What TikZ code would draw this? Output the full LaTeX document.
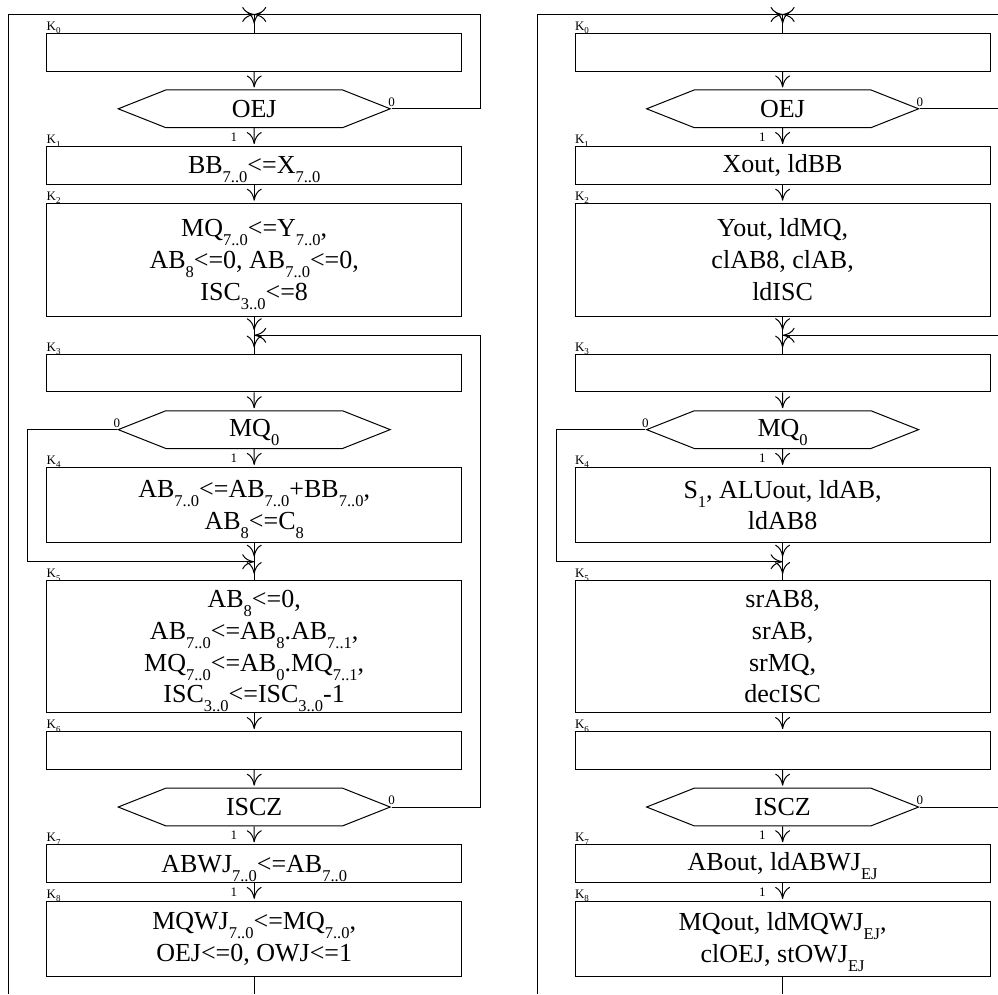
\documentclass[tikz,border=0pt]{standalone}
\usepackage{fontspec}
\setmainfont{Liberation Serif}
\usetikzlibrary{arrows.meta,shapes.symbols,positioning}

\newcommand{\sbs}[1]{\raisebox{-9pt}[0pt][0pt]{\fontsize{16.5}{16.5}\selectfont #1}}
\newcommand{\ksb}[1]{\raisebox{-3.5pt}[0pt][0pt]{\fontsize{9}{9}\selectfont #1}}

\begin{document}
\begin{tikzpicture}[x=1pt, y=1pt, line width=1pt, node distance=56.61pt,
    >={Computer Modern Rightarrow[length=12pt, width=15pt]},
    block/.style={rectangle, draw, minimum width=415pt, minimum height=37.74pt, inner sep=0pt, align=center, font=\fontsize{26}{31.8}\selectfont},
    test/.style={signal, signal to=east and west, signal pointer angle=43.2, draw, minimum width=272pt, minimum height=37.74pt, inner sep=0pt, font=\fontsize{26}{31.8}\selectfont},
    state/.style={label={[anchor=base west, inner sep=0pt, yshift=2.5pt, font=\fontsize{13}{13}\selectfont]north west:#1}},
    tag/.style={font=\fontsize{13}{13}\selectfont, inner sep=1.5pt},
    line/.style={draw},
    flow/.style={draw, ->, shorten >=2pt}]

    \clip (0,0) rectangle (998,-994);

    % left chart: operations
    \node [block, state={K\ksb{0}}] (l0) at (254.2,-52.2) {};
    \node [test, below of=l0] (lOEJ) {OEJ};
    \node [block, below of=lOEJ, state={K\ksb{1}}] (l1) {BB\sbs{7..0}<=X\sbs{7..0}};
    \node [block, below of=l1, node distance=94.35pt, minimum height=113.2pt, state={K\ksb{2}}] (l2) {MQ\sbs{7..0}<=Y\sbs{7..0},\\ AB\sbs{8}<=0, AB\sbs{7..0}<=0,\\ ISC\sbs{3..0}<=8};
    \coordinate [below of=l2, node distance=75.5pt] (lm1);
    \node [block, below of=lm1, node distance=37.74pt, state={K\ksb{3}}] (l3) {};
    \node [test, below of=l3] (lMQ) {MQ\sbs{0}};
    \node [block, below of=lMQ, node distance=75.48pt, minimum height=75.48pt, state={K\ksb{4}}] (l4) {AB\sbs{7..0}<=AB\sbs{7..0}+BB\sbs{7..0},\\ AB\sbs{8}<=C\sbs{8}};
    \coordinate [below of=l4] (lm2);
    \node [block, below of=lm2, node distance=84.9pt, minimum height=132.1pt, state={K\ksb{5}}] (l5) {AB\sbs{8}<=0,\\ AB\sbs{7..0}<=AB\sbs{8}.AB\sbs{7..1},\\ MQ\sbs{7..0}<=AB\sbs{0}.MQ\sbs{7..1},\\ ISC\sbs{3..0}<=ISC\sbs{3..0}-1};
    \node [block, below of=l5, node distance=103.8pt, state={K\ksb{6}}] (l6) {};
    \node [test, below of=l6] (lISCZ) {ISCZ};
    \node [block, below of=lISCZ, state={K\ksb{7}}] (l7) {ABWJ\sbs{7..0}<=AB\sbs{7..0}};
    \node [block, below of=l7, node distance=75.48pt, minimum height=75.48pt, state={K\ksb{8}}] (l8) {MQWJ\sbs{7..0}<=MQ\sbs{7..0},\\ OEJ<=0, OWJ<=1};
    \coordinate [above of=l0, node distance=37.74pt] (ltop);
    \coordinate (lrail) at (480.6,0);
    \coordinate (lrail2) at (27.8,0);
    \coordinate (louter) at (8.9,-994);

    \draw [line] (ltop) -- (l0);
    \draw [flow, shorten >=9pt] (ltop) -- (l0);
    \draw [flow] (l0) -- (lOEJ);
    \draw [flow] (lOEJ) -- node [tag, left=15pt] {1} (l1);
    \draw [flow] (l1) -- (l2);
    \draw [line] (l2) -- (l3);
    \draw [flow, shorten >=5pt] (l2) -- (lm1);
    \draw [flow, shorten >=6pt] (lm1) -- (l3);
    \draw [flow] (l3) -- (lMQ);
    \draw [flow] (lMQ) -- node [tag, left=15pt] {1} (l4);
    \draw [line] (l4) -- (l5);
    \draw [flow, shorten >=5pt] (l4) -- (lm2);
    \draw [flow, shorten >=6pt] (lm2) -- (l5);
    \draw [flow] (l5) -- (l6);
    \draw [flow] (l6) -- (lISCZ);
    \draw [flow] (lISCZ) -- node [tag, left=15pt] {1} (l7);
    \draw [flow] (l7) -- node [tag, left=15pt] {1} (l8);
    \draw [line] (l8) -- (l8.south |- louter);
    \draw [line, ->] (lOEJ.east) node [tag, above] {0} -| (lrail |- ltop) -- (ltop);
    \draw [line, ->] (lISCZ.east) node [tag, above] {0} -| (lrail |- lm1) -- (lm1);
    \draw [line, ->] (lMQ.west) node [tag, above] {0} -| (lrail2 |- lm2) -- (lm2);
    \draw [line, ->] (louter) |- (ltop);

    % right chart: control signals
    \node [block, state={K\ksb{0}}] (r0) at (782.6,-52.2) {};
    \node [test, below of=r0] (rOEJ) {OEJ};
    \node [block, below of=rOEJ, state={K\ksb{1}}] (r1) {Xout, ldBB};
    \node [block, below of=r1, node distance=94.35pt, minimum height=113.2pt, state={K\ksb{2}}] (r2) {Yout, ldMQ,\\ clAB8, clAB,\\ ldISC};
    \coordinate [below of=r2, node distance=75.5pt] (rm1);
    \node [block, below of=rm1, node distance=37.74pt, state={K\ksb{3}}] (r3) {};
    \node [test, below of=r3] (rMQ) {MQ\sbs{0}};
    \node [block, below of=rMQ, node distance=75.48pt, minimum height=75.48pt, state={K\ksb{4}}] (r4) {S\sbs{1}, ALUout, ldAB,\\ ldAB8};
    \coordinate [below of=r4] (rm2);
    \node [block, below of=rm2, node distance=84.9pt, minimum height=132.1pt, state={K\ksb{5}}] (r5) {srAB8,\\ srAB,\\ srMQ,\\ decISC};
    \node [block, below of=r5, node distance=103.8pt, state={K\ksb{6}}] (r6) {};
    \node [test, below of=r6] (rISCZ) {ISCZ};
    \node [block, below of=rISCZ, state={K\ksb{7}}] (r7) {ABout, ldABWJ\sbs{EJ}};
    \node [block, below of=r7, node distance=75.48pt, minimum height=75.48pt, state={K\ksb{8}}] (r8) {MQout, ldMQWJ\sbs{EJ},\\ clOEJ, stOWJ\sbs{EJ}};
    \coordinate [above of=r0, node distance=37.74pt] (rtop);
    \coordinate (rrail) at (1009,0);
    \coordinate (rrail2) at (556.2,0);
    \coordinate (router) at (537.3,-994);

    \draw [line] (rtop) -- (r0);
    \draw [flow, shorten >=9pt] (rtop) -- (r0);
    \draw [flow] (r0) -- (rOEJ);
    \draw [flow] (rOEJ) -- node [tag, left=15pt] {1} (r1);
    \draw [flow] (r1) -- (r2);
    \draw [line] (r2) -- (r3);
    \draw [flow, shorten >=5pt] (r2) -- (rm1);
    \draw [flow, shorten >=6pt] (rm1) -- (r3);
    \draw [flow] (r3) -- (rMQ);
    \draw [flow] (rMQ) -- node [tag, left=15pt] {1} (r4);
    \draw [line] (r4) -- (r5);
    \draw [flow, shorten >=5pt] (r4) -- (rm2);
    \draw [flow, shorten >=6pt] (rm2) -- (r5);
    \draw [flow] (r5) -- (r6);
    \draw [flow] (r6) -- (rISCZ);
    \draw [flow] (rISCZ) -- node [tag, left=15pt] {1} (r7);
    \draw [flow] (r7) -- node [tag, left=15pt] {1} (r8);
    \draw [line] (r8) -- (r8.south |- router);
    \draw [line, ->] (rOEJ.east) node [tag, above] {0} -| (rrail |- rtop) -- (rtop);
    \draw [line, ->] (rISCZ.east) node [tag, above] {0} -| (rrail |- rm1) -- (rm1);
    \draw [line, ->] (rMQ.west) node [tag, above] {0} -| (rrail2 |- rm2) -- (rm2);
    \draw [line, ->] (router) |- (rtop);
\end{tikzpicture}
\end{document}
